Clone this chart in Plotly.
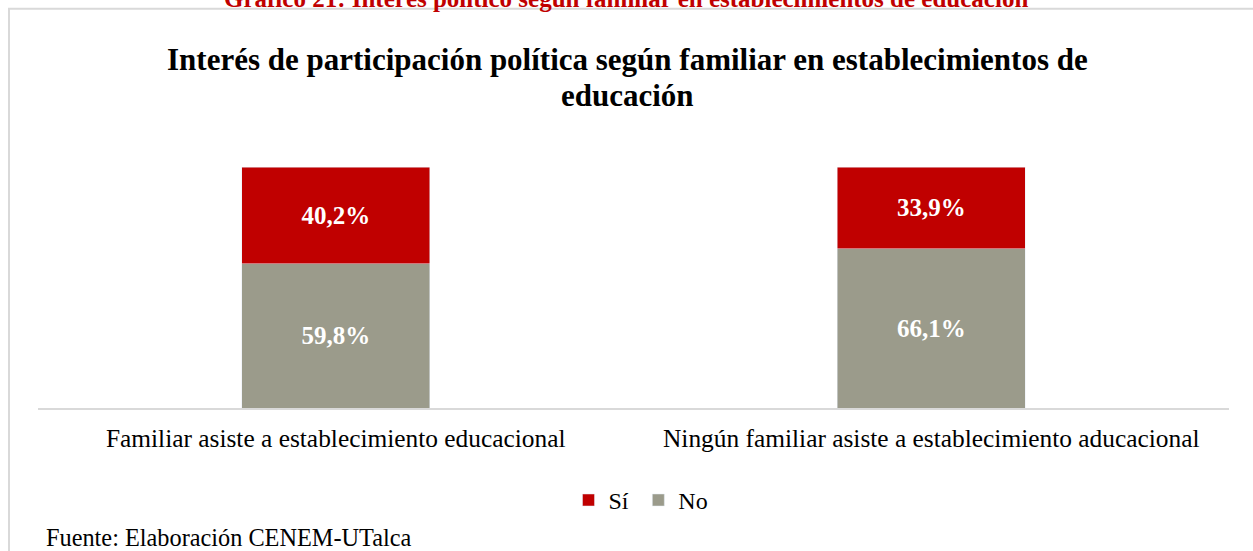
import plotly.graph_objects as go

categories = ["Familiar asiste a establecimiento educacional",
              "Ningún familiar asiste a establecimiento aducacional"]
si_values = [40.2, 33.9]
no_values = [59.8, 66.1]
si_labels = ["40,2%", "33,9%"]
no_labels = ["59,8%", "66,1%"]

W, H = 1253, 551
L, R = 38, 1229
T, B = 167, 407.7
pw, ph = R - L, B - T

def px(x):
    return (x - L) / pw

def py(y):
    return (B - y) / ph

SERIF = "'Liberation Serif', serif"
RED = "#C00000"
GRAY = "#9B9B8B"

fig = go.Figure()
fig.add_trace(go.Bar(
    x=categories, y=no_values, name="No", marker_color=GRAY,
    text=no_labels, textposition="inside", insidetextanchor="middle",
    textfont=dict(family=SERIF, size=25, color="white", weight="bold"),
))
fig.add_trace(go.Bar(
    x=categories, y=si_values, name="Sí\u2009", marker_color=RED,
    text=si_labels, textposition="inside", insidetextanchor="middle",
    textfont=dict(family=SERIF, size=25, color="white", weight="bold"),
))

fig.update_layout(
    width=W, height=H,
    margin=dict(l=L, r=W - R, t=T, b=H - B, pad=0),
    barmode="stack", bargap=0.684,
    paper_bgcolor="white", plot_bgcolor="white",
    showlegend=True,
    legend=dict(orientation="h", x=px(641), xanchor="center", y=py(500), yanchor="middle",
                traceorder="reversed", font=dict(family=SERIF, size=24, color="#000000"),
                itemwidth=30),
    xaxis=dict(showline=True, linecolor="#D9D9D9", linewidth=2, ticks="",
               tickfont=dict(family=SERIF, size=25.4, color="#000000"), showgrid=False,
               ticklabelstandoff=7),
    yaxis=dict(range=[0, 100], visible=False, showgrid=False),
    uniformtext=dict(mode="show", minsize=10),
)

fig.add_annotation(
    text="<b>Interés de participación política según familiar en establecimientos de</b>",
    xref="paper", yref="paper", x=px(627), y=py(60), xanchor="center", yanchor="middle",
    showarrow=False, font=dict(family=SERIF, size=31, color="#000000"),
)
fig.add_annotation(
    text="<b>educación</b>",
    xref="paper", yref="paper", x=px(627), y=py(96), xanchor="center", yanchor="middle",
    showarrow=False, font=dict(family=SERIF, size=31, color="#000000"),
)
fig.add_annotation(
    text="<b>Gráfico 21: Interés político según familiar en establecimientos de educación</b>",
    xref="paper", yref="paper", x=px(626), y=py(14), xanchor="center", yanchor="bottom",
    showarrow=False, font=dict(family=SERIF, size=25, color=RED),
)
fig.add_annotation(
    text="Fuente: Elaboración CENEM-UTalca",
    xref="paper", yref="paper", x=px(44), y=py(537), xanchor="left", yanchor="middle",
    showarrow=False, font=dict(family=SERIF, size=24.3, color="#000000"),
)
fig.add_shape(type="rect", xref="paper", yref="paper",
              x0=px(9), x1=px(1265), y0=py(565), y1=py(9),
              line=dict(color="#D9D9D9", width=2), fillcolor="rgba(0,0,0,0)", layer="below")

fig.write_html("out.html", config={"displayModeBar": False},
               post_script="document.body.style.margin='0';document.body.style.overflow='hidden';")
